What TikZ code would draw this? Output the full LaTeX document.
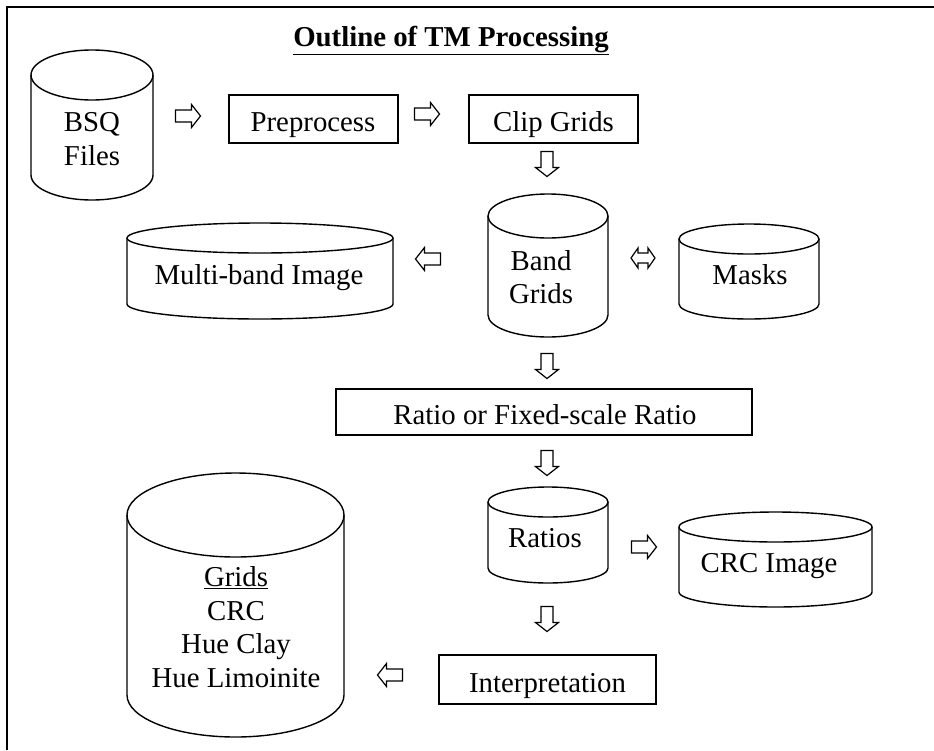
\documentclass[tikz,border=0pt]{standalone}
\usepackage{fontspec}
\setmainfont{Liberation Serif}
\usetikzlibrary{calc}
\newcommand{\dbcyl}[6]{% name x1 x2 top bot ry
  \pgfmathsetmacro\cxa{(#2+#3)/2}%
  \pgfmathsetmacro\rxa{(#3-#2)/2}%
  \pgfmathsetmacro\yta{#4+#6}%
  \pgfmathsetmacro\yba{#5-#6}%
  \pgfmathsetmacro\kxa{0.5523*\rxa}%
  \pgfmathsetmacro\kya{0.5523*#6}%
  \coordinate (#1) at (\cxa,{(#4+#5)/2});
  \draw[shapeline] (\cxa,\yta) ellipse [x radius=\rxa pt, y radius=#6 pt];
  \draw[shapeline] (#2,\yta) -- (#2,\yba)
     .. controls (#2,{\yba+\kya}) and ({\cxa-\kxa},#5) .. (\cxa,#5)
     .. controls ({\cxa+\kxa},#5) and (#3,{\yba+\kya}) .. (#3,\yba) -- (#3,\yta);
}
\tikzset{
  shapeline/.style={line width=1.4pt},
  arrowline/.style={line width=1.2pt, line join=miter},
  txt/.style={font=\fontsize{28.8}{33.6}\selectfont, align=center, inner sep=0pt},
  procbox/.style={draw, line width=1.4pt, inner sep=0pt},
  hollowarrow/.pic={\draw[arrowline] (-12.5,-6) -- (3.5,-6) -- (3.5,-11.5) -- (12.5,0) -- (3.5,11.5) -- (3.5,6) -- (-12.5,6) -- cycle;},
  hollowdouble/.pic={\draw[arrowline] (-12,0) -- (-5,-10) -- (-5,-5) -- (5,-5) -- (5,-10) -- (12,0) -- (5,10) -- (5,5) -- (-5,5) -- (-5,10) -- cycle;}
}
\begin{document}
\begin{tikzpicture}[x=1pt,y=-1pt]
\useasboundingbox (0,0) rectangle (934,750);
% frame
\draw[line width=2.2pt] (7,750) -- (7,7) -- (934,7);
% title
\node[txt, font=\fontsize{28.8}{33.6}\selectfont\bfseries, anchor=base] (title) at (451,46) {\underline{Outline of TM Processing}};
% cylinders
\dbcyl{bsq}{31}{153}{50}{200}{25}
\node[txt] (bsqt) at (92,139) {BSQ\\Files};
\dbcyl{band}{488}{608}{194}{337}{22}
\node[txt] (bandt) at (541,277) {Band\\Grids};
\dbcyl{masks}{679}{819}{224}{319}{15}
\node[txt] (maskst) at (750,275) {Masks};
\dbcyl{multi}{127}{393}{223}{319}{15}
\node[txt] (multit) at (259,278) {Multi-band Image};
\dbcyl{ratios}{488}{608}{487}{583}{15}
\node[txt] (ratiost) at (545,538) {Ratios};
\dbcyl{crc}{679}{872}{512}{607}{15}
\node[txt] (crct) at (769,566) {CRC Image};
\dbcyl{grids}{127}{344}{473}{737}{42}
\node[txt] (gridst) at (236,627) {\underline{Grids}\\CRC\\Hue Clay\\Hue Limoinite};
% boxes
\node[procbox, minimum width=169pt, minimum height=48pt] (pre) at (313.5,119) {};
\node[txt] (pret) at (313,125.5) {Preprocess};
\node[procbox, minimum width=169pt, minimum height=48pt] (clip) at (553.5,119) {};
\node[txt] (clipt) at (553.5,125) {Clip Grids};
\node[procbox, minimum width=416pt, minimum height=46pt] (ratio) at (544,412) {};
\node[txt] (ratiot) at (545,415) {Ratio or Fixed-scale Ratio};
\node[procbox, minimum width=217pt, minimum height=49pt] (interp) at (547.5,679.5) {};
\node[txt] (interpt) at (547.5,686) {Interpretation};
% arrows
\pic at (188,116) {hollowarrow};
\pic at (427,114) {hollowarrow};
\pic[rotate=-90] at (547,164) {hollowarrow};
\pic[rotate=180] at (428,259) {hollowarrow};
\pic at (643,258) {hollowdouble};
\pic[rotate=-90] at (547,366) {hollowarrow};
\pic[rotate=-90] at (547,463) {hollowarrow};
\pic at (644,547) {hollowarrow};
\pic[rotate=-90] at (547,619) {hollowarrow};
\pic[rotate=180] at (390,675) {hollowarrow};
\end{tikzpicture}
\end{document}
